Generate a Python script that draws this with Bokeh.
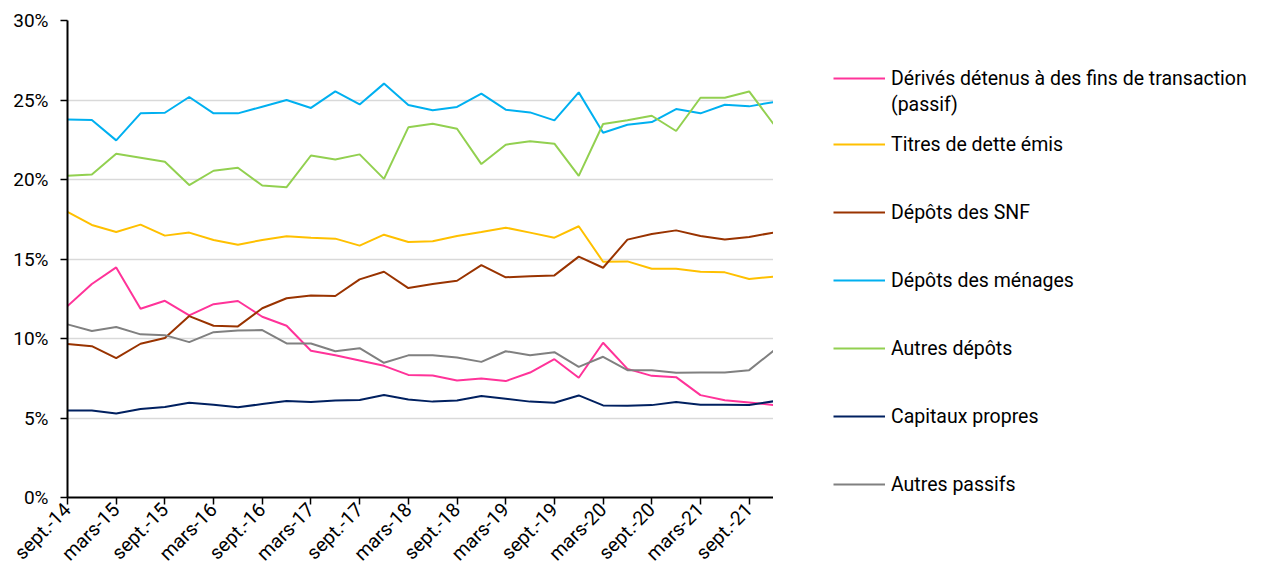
from bokeh.plotting import figure
from bokeh.layouts import row
from bokeh.models import Range1d, FixedTicker, PrintfTickFormatter, Legend, LegendItem
from bokeh.embed import file_html
from bokeh.resources import INLINE

# Quarterly periods, Sept. 2014 to Dec. 2021
quarters = [
    "sept.-14", "déc.-14", "mars-15", "juin-15", "sept.-15", "déc.-15",
    "mars-16", "juin-16", "sept.-16", "déc.-16", "mars-17", "juin-17",
    "sept.-17", "déc.-17", "mars-18", "juin-18", "sept.-18", "déc.-18",
    "mars-19", "juin-19", "sept.-19", "déc.-19", "mars-20", "juin-20",
    "sept.-20", "déc.-20", "mars-21", "juin-21", "sept.-21", "déc.-21",
]

# Share of total liabilities (%)
derives = [12.04, 13.43, 14.47, 11.87, 12.37, 11.45, 12.16, 12.36, 11.37, 10.80,
           9.23, 8.95, 8.62, 8.28, 7.71, 7.67, 7.36, 7.48, 7.32, 7.86,
           8.70, 7.53, 9.73, 8.09, 7.65, 7.57, 6.44, 6.12, 5.97, 5.82]
titres = [17.96, 17.14, 16.70, 17.16, 16.47, 16.66, 16.20, 15.90, 16.20, 16.43,
          16.34, 16.28, 15.84, 16.53, 16.07, 16.11, 16.45, 16.70, 16.97, 16.66,
          16.34, 17.06, 14.83, 14.85, 14.39, 14.39, 14.20, 14.16, 13.74, 13.89]
depots_snf = [9.65, 9.52, 8.77, 9.67, 10.03, 11.41, 10.80, 10.76, 11.90, 12.53,
              12.71, 12.67, 13.72, 14.20, 13.17, 13.43, 13.63, 14.62, 13.85, 13.91,
              13.97, 15.15, 14.45, 16.22, 16.57, 16.80, 16.45, 16.22, 16.39, 16.66]
depots_menages = [23.78, 23.74, 22.46, 24.16, 24.20, 25.19, 24.16, 24.16, 24.58, 25.00,
                  24.50, 25.54, 24.72, 26.03, 24.68, 24.35, 24.56, 25.40, 24.39, 24.22,
                  23.72, 25.48, 22.94, 23.44, 23.61, 24.43, 24.16, 24.70, 24.60, 24.87]
autres_depots = [20.23, 20.32, 21.62, 21.37, 21.12, 19.65, 20.55, 20.74, 19.62, 19.52,
                 21.51, 21.26, 21.58, 20.04, 23.28, 23.51, 23.19, 20.97, 22.19, 22.40,
                 22.25, 20.23, 23.49, 23.72, 24.01, 23.05, 25.14, 25.14, 25.54, 23.49]
capitaux = [5.47, 5.47, 5.28, 5.56, 5.69, 5.96, 5.84, 5.67, 5.88, 6.07,
            6.01, 6.10, 6.13, 6.44, 6.17, 6.03, 6.10, 6.38, 6.21, 6.03,
            5.96, 6.42, 5.79, 5.77, 5.81, 6.00, 5.84, 5.84, 5.82, 6.05]
autres_passifs = [10.89, 10.47, 10.72, 10.26, 10.21, 9.77, 10.40, 10.50, 10.53, 9.69,
                  9.69, 9.20, 9.39, 8.47, 8.94, 8.94, 8.81, 8.53, 9.20, 8.94,
                  9.14, 8.22, 8.85, 8.01, 8.01, 7.84, 7.86, 7.86, 8.01, 9.23]

series = [
    ("Dérivés détenus à des fins de transaction", derives, "#FF3399"),
    ("Titres de dette émis", titres, "#FFC000"),
    ("Dépôts des SNF", depots_snf, "#993300"),
    ("Dépôts des ménages", depots_menages, "#00B0F0"),
    ("Autres dépôts", autres_depots, "#92D050"),
    ("Capitaux propres", capitaux, "#002060"),
    ("Autres passifs", autres_passifs, "#808080"),
]
first_label_cont = "(passif)"

FONT = "Roboto"
x = list(range(len(quarters)))

# ---- main chart ----
p = figure(width=773, height=577, output_backend="svg", toolbar_location=None,
           x_range=Range1d(0, len(quarters) - 1), y_range=Range1d(0, 30),
           min_border_left=67, min_border_right=0, min_border_top=20,
           min_border_bottom=80)
p.outline_line_color = None

for name, vals, color in series:
    p.line(x, vals, line_color=color, line_width=2)

p.xaxis.ticker = FixedTicker(ticks=x[::2])
p.xaxis.major_label_overrides = {i: quarters[i] for i in x[::2]}
p.xaxis.major_label_orientation = 0.785398
p.yaxis.ticker = FixedTicker(ticks=[0, 5, 10, 15, 20, 25, 30])
p.yaxis.formatter = PrintfTickFormatter(format="%d%%")

for ax in (p.xaxis, p.yaxis):
    ax.minor_tick_line_color = None
    ax.major_tick_in = 0
    ax.major_tick_out = 7
    ax.axis_line_color = "black"
    ax.axis_line_width = 2
    ax.major_tick_line_color = "black"
    ax.major_tick_line_width = 1.5
    ax.major_label_text_font = FONT
    ax.major_label_text_color = "black"
p.xaxis.major_label_text_font_size = "19.5px"
p.yaxis.major_label_text_font_size = "19px"
p.xaxis.major_label_standoff = 2
p.yaxis.major_label_standoff = 12

p.xgrid.grid_line_color = None
p.ygrid.grid_line_color = "#D9D9D9"
p.ygrid.grid_line_width = 1.5

# ---- legend panel (swatch renderers carry no visible points) ----
lg = figure(width=491, height=577, output_backend="svg", toolbar_location=None,
            x_axis_type=None, y_axis_type=None, min_border=0,
            x_range=Range1d(0, 1), y_range=Range1d(0, 1))
lg.outline_line_color = None
lg.grid.visible = False

items = []
for name, vals, color in series:
    r = lg.line(x=[float("nan")], y=[float("nan")], line_color=color, line_width=2)
    items.append(LegendItem(label=name, renderers=[r]))

# continuation line of the first entry, without swatch
blank = lg.line(x=[float("nan")], y=[float("nan")], line_alpha=0)
cont = [LegendItem(label=first_label_cont, renderers=[blank])]


def make_legend(entries, loc, spacing):
    return Legend(items=entries, location=loc, spacing=spacing, padding=0, margin=0,
                  glyph_width=52, glyph_height=24, label_height=24,
                  label_standoff=6, label_text_font=FONT,
                  label_text_font_size="19.5px", label_text_color="black",
                  background_fill_alpha=0, border_line_alpha=0)


lg.add_layout(make_legend(items[:1], (60, 407), 0))
lg.add_layout(make_legend(cont, (60, 381), 0))
lg.add_layout(make_legend(items[1:], (60, 1), 44))

open("out.html", "w").write(file_html(row(p, lg), INLINE))
